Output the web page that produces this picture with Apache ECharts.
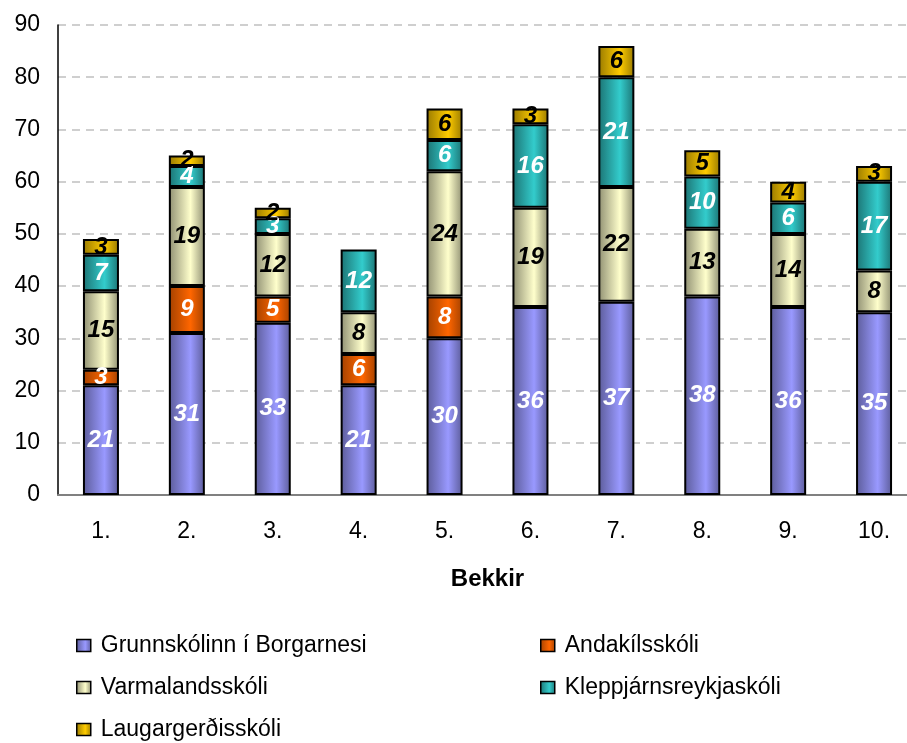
<!DOCTYPE html>
<html>
<head>
<meta charset="utf-8">
<script src="https://cdn.jsdelivr.net/npm/echarts@6/dist/echarts.min.js"></script>
<style>
  html, body { margin: 0; padding: 0; background: #fff; overflow: hidden; }
  /* plot runs a little past the right edge of the window, as in the reference */
  #chart { width: 917px; height: 743px; }
</style>
</head>
<body>
<div id="chart"></div>
<script>
// data
const categories = ['1.', '2.', '3.', '4.', '5.', '6.', '7.', '8.', '9.', '10.'];
const seriesNames = ['Grunnskólinn í Borgarnesi', 'Andakílsskóli', 'Varmalandsskóli', 'Kleppjárnsreykjaskóli', 'Laugargerðisskóli'];
const grunnskolinn = [21, 31, 33, 21, 30, 36, 37, 38, 36, 35];
const andakils = [3, 9, 5, 6, 8, 0, 0, 0, 0, 0];
const varmalands = [15, 19, 12, 8, 24, 19, 22, 13, 14, 8];
const kleppjarns = [7, 4, 3, 12, 6, 16, 21, 10, 6, 17];
const laugargerdis = [3, 2, 2, 0, 6, 3, 6, 5, 4, 3];
const yTicks = [0, 10, 20, 30, 40, 50, 60, 70, 80, 90];

const font = '"Liberation Sans", Arial, sans-serif';

// dark edge / light centre, like the old office charts
function barFill(dark, light) {
    return new echarts.graphic.LinearGradient(0, 0, 1, 0, [
        { offset: 0, color: dark },
        { offset: 0.6, color: light },
        { offset: 1, color: dark }
    ]);
}

const styles = [
    { dark: '#5c5c99', light: '#9999ff', label: '#fff' },
    { dark: '#a34100', light: '#ff6600', label: '#fff' },
    { dark: '#8f8f72', light: '#ffffcc', label: '#000' },
    { dark: '#1c7373', light: '#33cccc', label: '#fff' },
    { dark: '#997a00', light: '#ffcc00', label: '#000' }
];
const values = [grunnskolinn, andakils, varmalands, kleppjarns, laugargerdis];

const myChart = echarts.init(document.getElementById('chart'));

const series = values.map((vals, i) => ({
    name: seriesNames[i],
    type: 'bar',
    stack: 'total',
    barWidth: 36,
    data: vals.map(v => (v === 0 ? '-' : v)),
    itemStyle: {
        color: barFill(styles[i].dark, styles[i].light),
        borderColor: '#000',
        borderWidth: 2
    },
    label: {
        show: true,
        position: 'inside',
        color: styles[i].label,
        fontFamily: font,
        fontSize: 24,
        fontWeight: 'bold',
        fontStyle: 'italic'
    },
    emphasis: { disabled: true }
}));

// legend laid out as the two columns of the reference
const legendSpots = [[76, 634], [540, 634], [76, 676], [540, 676], [76, 718]];
const legends = seriesNames.map((name, i) => ({
    data: [name],
    left: legendSpots[i][0],
    top: legendSpots[i][1],
    padding: 0,
    itemWidth: 14,
    itemHeight: 12,
    icon: 'rect',
    itemStyle: { borderColor: '#000', borderWidth: 1.5 },
    textStyle: { fontFamily: font, fontSize: 23, color: '#000', padding: [0, 0, 0, 5] }
}));

const option = {
    animation: false,
    backgroundColor: '#fff',
    grid: { left: 58, right: 0, top: 25, bottom: 248, containLabel: false },
    legend: legends,
    xAxis: {
        type: 'category',
        data: categories,
        name: 'Bekkir',
        nameLocation: 'middle',
        nameGap: 72,
        nameTextStyle: { fontFamily: font, fontSize: 24, fontWeight: 'bold', color: '#000' },
        axisLine: { lineStyle: { color: '#808080', width: 2 } },
        axisTick: { show: false },
        axisLabel: { fontFamily: font, fontSize: 23, color: '#000', margin: 25 }
    },
    yAxis: {
        type: 'value',
        min: yTicks[0],
        max: yTicks[yTicks.length - 1],
        interval: 10,
        axisLine: { show: true, lineStyle: { color: '#000', width: 1.5 } },
        axisTick: { show: false },
        axisLabel: { fontFamily: font, fontSize: 23, color: '#000', margin: 18 },
        splitLine: { lineStyle: { color: '#c0c0c0', type: [8, 6], width: 1.5 } }
    },
    series: series
};
myChart.setOption(option);
</script>
</body>
</html>
